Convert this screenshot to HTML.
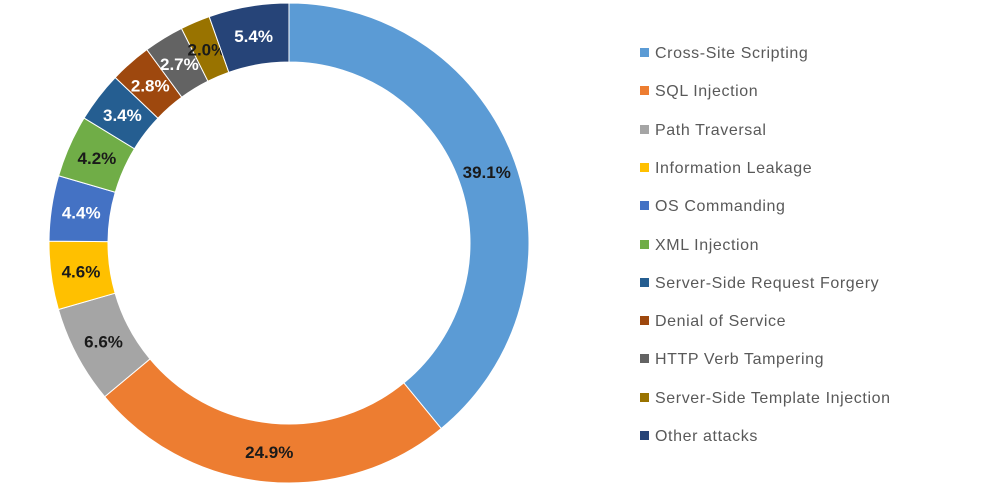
<!DOCTYPE html>
<html><head><style>
body{margin:0;background:#fff;width:995px;height:483px;overflow:hidden;font-family:"Liberation Sans",sans-serif}
.lg{position:absolute;left:640px;font-size:16px;letter-spacing:0.6px;color:#595959;white-space:nowrap}
.lg span{display:inline-block;width:9px;height:9px;margin-right:6px;vertical-align:1px}
</style></head><body>
<svg id="s" width="995" height="483" style="position:absolute;left:0;top:0"></svg>
<div id="lg"></div>
<script>
var v=[39.1,24.9,6.6,4.6,4.4,4.2,3.4,2.8,2.7,2.0,5.4];
var c=["#5B9BD5","#ED7D31","#A5A5A5","#FFC000","#4472C4","#70AD47","#255E91","#9E480E","#636363","#997300","#264478"];
var n=["Cross-Site Scripting","SQL Injection","Path Traversal","Information Leakage","OS Commanding","XML Injection","Server-Side Request Forgery","Denial of Service","HTTP Verb Tampering","Server-Side Template Injection","Other attacks"];
var wt=[0,0,0,0,1,0,1,1,1,0,1];
var cx=289,cy=243,R=240,r=181,tot=100.1,a=0,s="";
function p(rad,ang){return [cx+rad*Math.sin(ang),cy-rad*Math.cos(ang)];}
for(var i=0;i<v.length;i++){
 var a0=a/tot*2*Math.PI;a+=v[i];var a1=a/tot*2*Math.PI;var L=(a1-a0)>Math.PI?1:0;
 var p1=p(R,a0),p2=p(R,a1),p3=p(r,a1),p4=p(r,a0);
 s+='<path d="M'+p1+' A'+R+' '+R+' 0 '+L+' 1 '+p2+' L'+p3+' A'+r+' '+r+' 0 '+L+' 0 '+p4+'Z" fill="'+c[i]+'" stroke="#fff" stroke-width="1"/>';
 var m=p(210,(a0+a1)/2);
 s+='<text x="'+m[0]+'" y="'+(m[1]+6)+'" text-anchor="middle" font-size="17" font-weight="bold" fill="'+(wt[i]?"#fff":"#1a1a1a")+'">'+v[i].toFixed(1)+'%</text>';
}
document.getElementById("s").innerHTML=s;
var h="";
for(var i=0;i<n.length;i++){h+='<div class="lg" style="top:'+(45+i*38.3)+'px"><span style="background:'+c[i]+'"></span>'+n[i]+'</div>';}
document.getElementById("lg").innerHTML=h;
</script>
</body></html>
